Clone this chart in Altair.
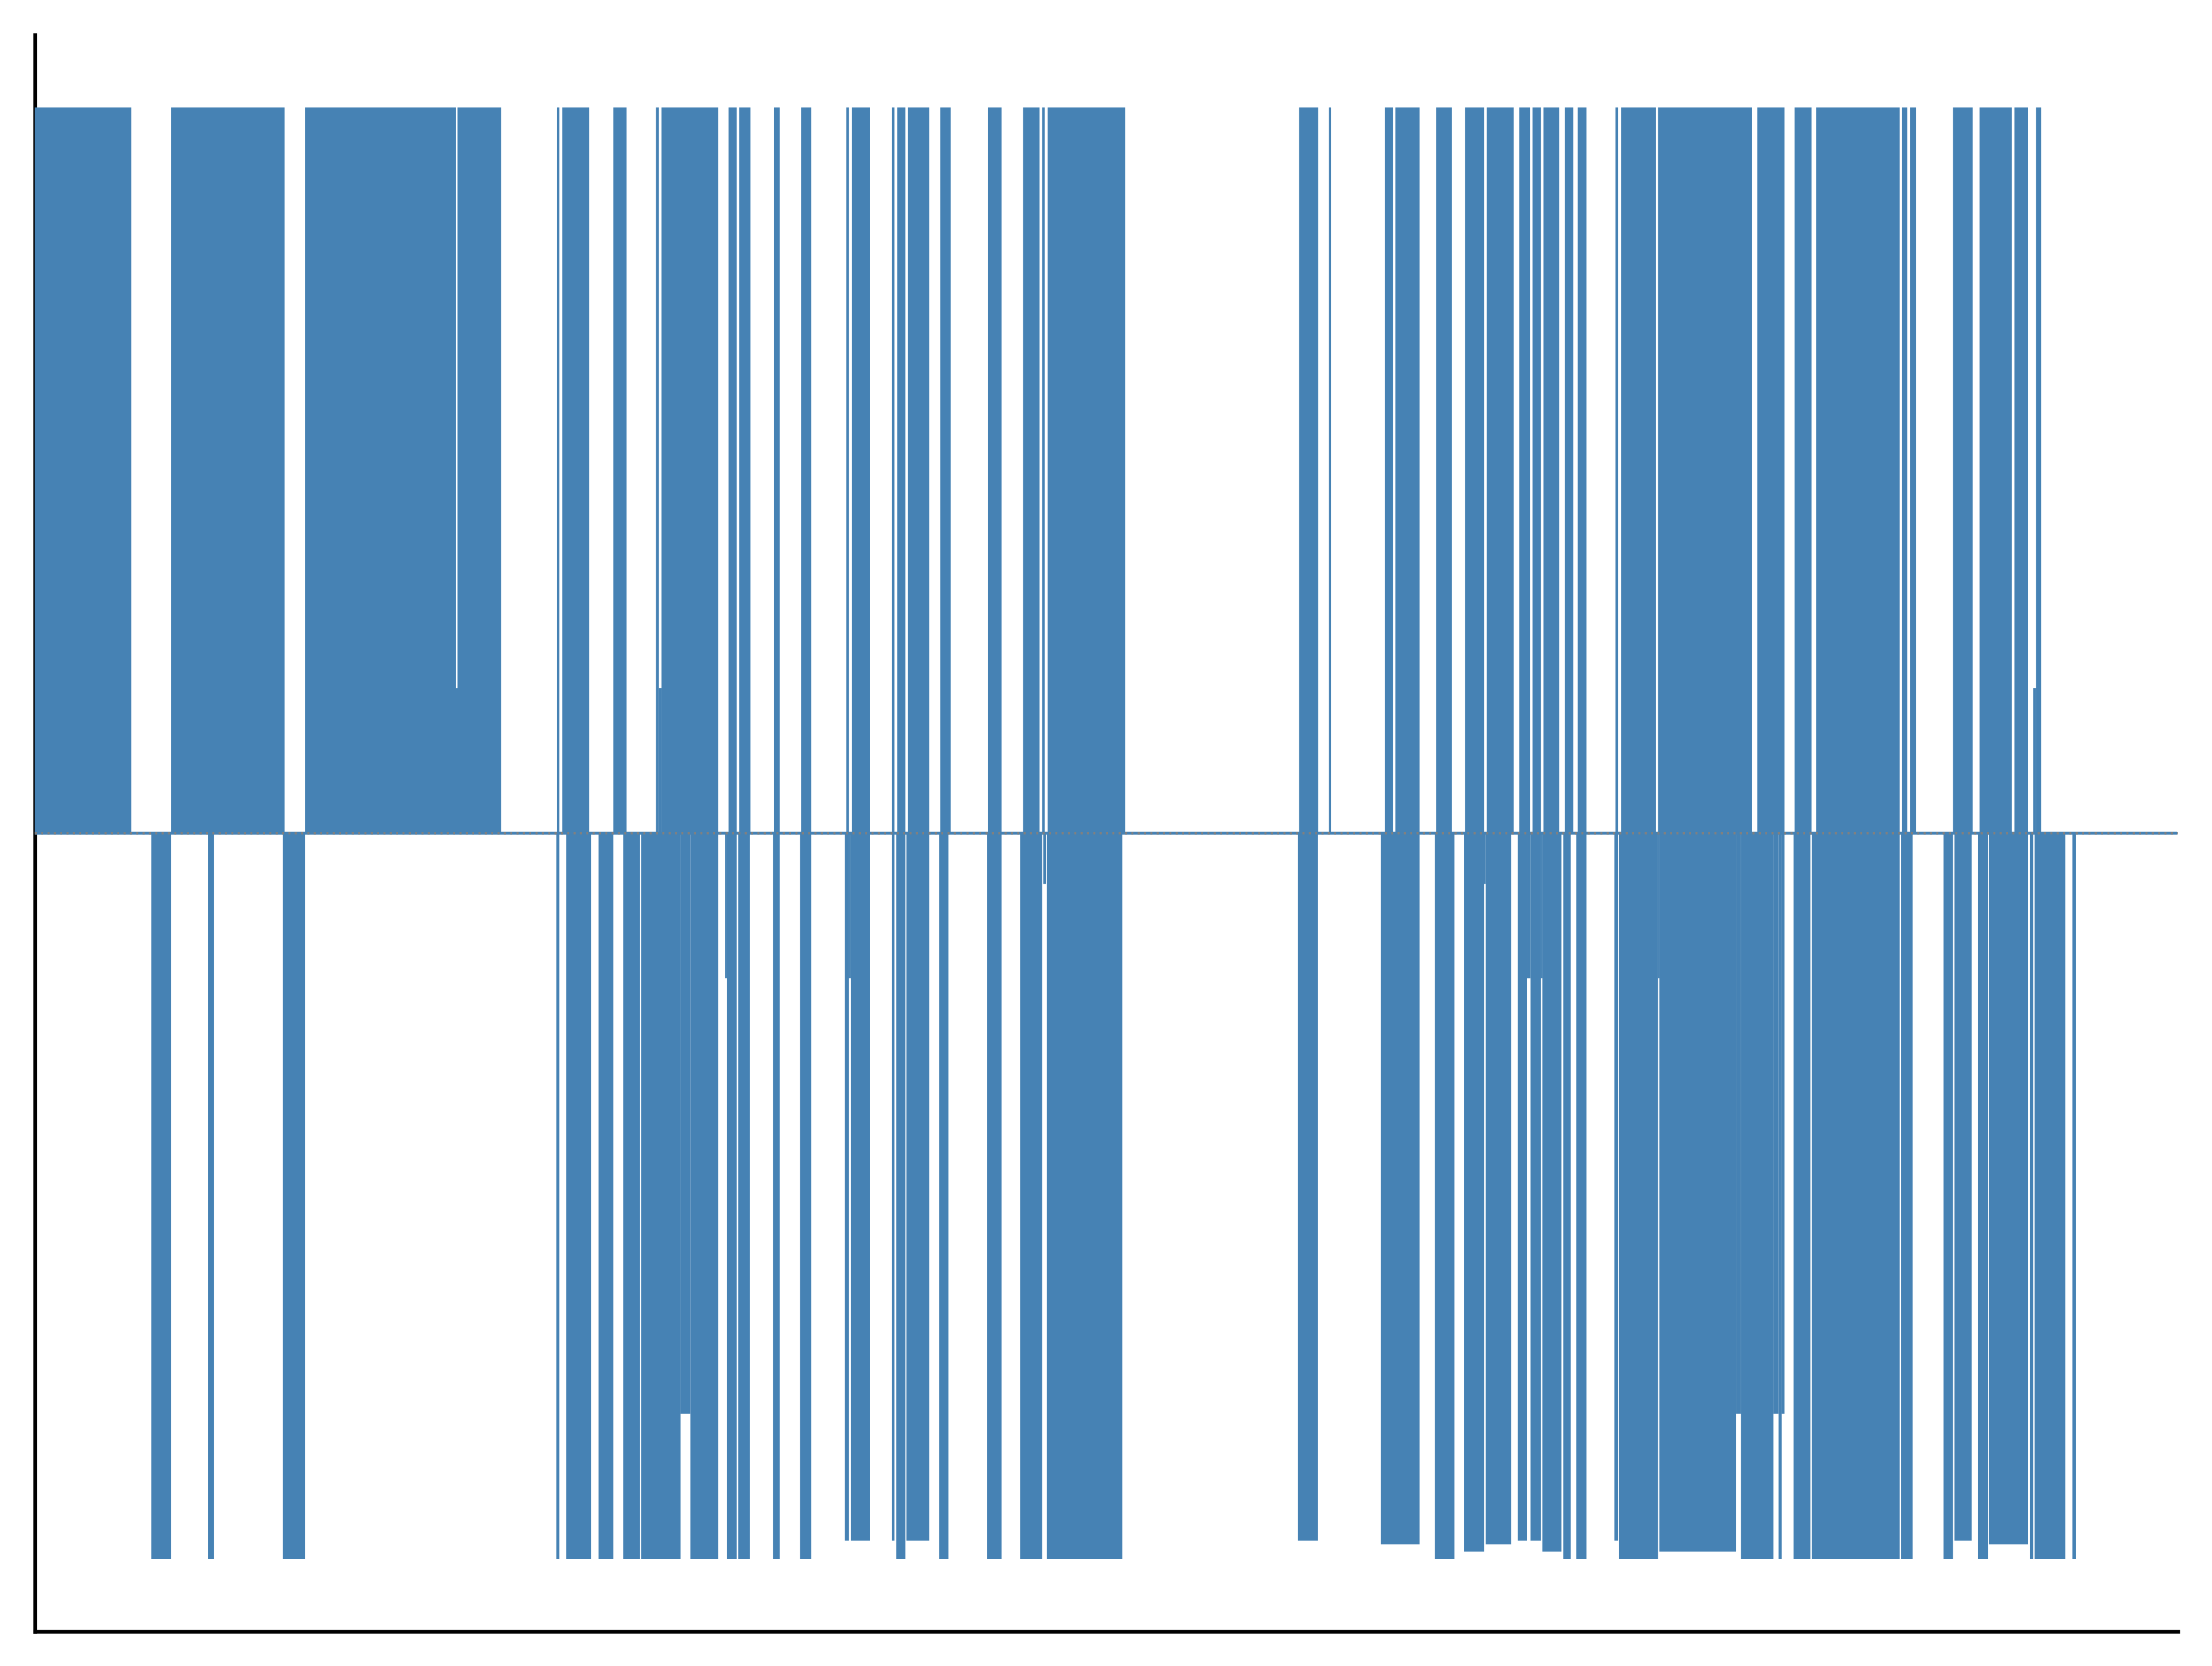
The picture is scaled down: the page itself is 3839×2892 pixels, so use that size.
import altair as alt
import pandas as pd

BLUE = "#4682b4"

# bursts above zero: start, end (time units 0-1000) and the level reached
up_start = [0, 63.6, 126.0, 196.4, 197.2, 243.7, 246.1, 269.9, 289.8, 291.2,
            292.4, 323.7, 328.7, 344.8, 357.5, 378.6, 381.3, 399.9, 402.4, 407.4,
            422.5, 444.8, 461.1, 470.0, 472.6, 589.9, 603.8, 630.0, 634.8, 653.8,
            667.4, 677.5, 692.6, 698.8, 703.9, 713.9, 719.9, 737.5, 740.1, 757.4,
            803.7, 821.1, 831.2, 871.2, 875.0, 895.0, 907.4, 923.7, 932.4, 933.8]
up_end = [45.0, 116.5, 196.4, 197.2, 217.6, 244.7, 258.6, 276.1, 291.2, 292.4,
          318.8, 327.5, 333.9, 347.6, 362.3, 379.8, 389.7, 401.1, 406.2, 417.3,
          427.3, 451.1, 468.8, 471.2, 508.8, 598.8, 604.8, 633.8, 646.1, 661.2,
          676.3, 690.0, 697.6, 702.7, 711.3, 717.8, 724.0, 738.7, 756.4, 801.3,
          816.4, 829.0, 870.1, 873.7, 877.7, 904.2, 922.5, 930.1, 933.8, 936.1]
up_level = [1, 1, 1, 0.2, 1, 1, 1, 1, 1, 0.2,
            1, 1, 1, 1, 1, 1, 1, 1, 1, 1,
            1, 1, 1, 1, 1, 1, 1, 1, 1, 1,
            1, 1, 1, 1, 1, 1, 1, 1, 1, 1,
            1, 1, 1, 1, 1, 1, 1, 1, 0.2, 1]

# bursts below zero
down_start = [54.3, 80.8, 115.7, 243.3, 247.9, 263.0, 274.5, 282.9, 301.3, 305.9,
              322.0, 323.0, 328.2, 344.5, 357.0, 377.9, 379.8, 380.8, 399.9, 401.9,
              406.7, 422.0, 444.3, 459.7, 470.5, 472.2, 589.4, 628.1, 653.2, 666.9,
              676.3, 677.0, 691.9, 696.2, 697.9, 702.7, 703.4, 713.2, 719.2, 737.0,
              739.2, 757.4, 758.0, 793.8, 796.1, 811.2, 813.6, 815.1, 820.6, 829.2,
              870.7, 890.6, 895.7, 906.7, 911.8, 930.9, 933.1, 950.7]
down_end = [63.6, 83.5, 126.0, 244.7, 259.6, 269.9, 282.4, 301.3, 305.9, 318.8,
            323.0, 327.5, 333.7, 347.6, 362.3, 379.8, 380.8, 389.7, 401.1, 406.2,
            417.3, 426.3, 451.1, 470.0, 471.7, 507.4, 598.6, 646.1, 662.4, 676.3,
            677.0, 688.8, 696.2, 697.9, 702.7, 703.4, 712.3, 716.6, 724.0, 738.7,
            757.4, 758.0, 793.8, 796.1, 811.2, 813.6, 815.1, 816.4, 828.5, 870.1,
            876.2, 895.0, 903.7, 911.3, 930.1, 932.4, 947.4, 952.4]
down_level = [-1, -1, -1, -1, -1, -1, -1, -1, -0.8, -1,
              -0.2, -1, -1, -1, -1, -0.975, -0.2, -0.975, -0.975, -1,
              -0.975, -1, -1, -1, -0.07, -1, -0.975, -0.98, -1, -0.99,
              -0.07, -0.98, -0.975, -0.2, -0.975, -0.2, -0.99, -1, -1, -0.975,
              -1, -0.2, -0.99, -0.8, -1, -0.8, -1, -0.8, -1, -1,
              -1, -1, -0.975, -1, -0.98, -1, -1, -1]

# quiet signal along zero, and the dashed zero reference
baseline_span = [0.0, 999.5]
zero_span = [0.0, 1000.0]

segments = pd.concat([
    pd.DataFrame({"start": up_start, "end": up_end, "level": up_level}),
    pd.DataFrame({"start": down_start, "end": down_end, "level": down_level}),
])
segments["base"] = 0.0

baseline_df = pd.DataFrame({"start": [baseline_span[0]], "end": [baseline_span[1]], "y": [0.0]})
zero_df = pd.DataFrame({"start": [zero_span[0]], "end": [zero_span[1]], "y": [0.0]})

x_scale = alt.Scale(domain=[0, 1000], nice=False, zero=False)
y_scale = alt.Scale(domain=[-1.1, 1.1], nice=False, zero=False)
axis_style = dict(domain=True, domainColor="black", domainWidth=6.3, domainCap="square",
                  ticks=False, labels=False, grid=False, title="")

bursts = alt.Chart(segments).mark_rect(color=BLUE).encode(
    x=alt.X("start:Q", scale=x_scale, axis=alt.Axis(**axis_style)),
    x2=alt.X2("end"),
    y=alt.Y("level:Q", scale=y_scale, axis=alt.Axis(**axis_style)),
    y2=alt.Y2("base"),
)

baseline = alt.Chart(baseline_df).mark_rule(color=BLUE, strokeWidth=5).encode(
    x="start:Q", x2=alt.X2("end"), y="y:Q"
)

zero_line = alt.Chart(zero_df).mark_rule(
    color="#808080", strokeWidth=4.5, strokeDash=[3.5, 7.5]
).encode(x="start:Q", x2=alt.X2("end"), y="y:Q")

chart = alt.layer(bursts, baseline, zero_line).properties(
    width=3719.5,
    height=2771.5,
    autosize=alt.AutoSizeParams(type="none"),
    padding={"left": 52.5, "top": 52.5, "right": 40, "bottom": 40},
).configure_view(strokeWidth=0)

chart.save("out.html", embed_options={"renderer": "svg", "actions": False})
